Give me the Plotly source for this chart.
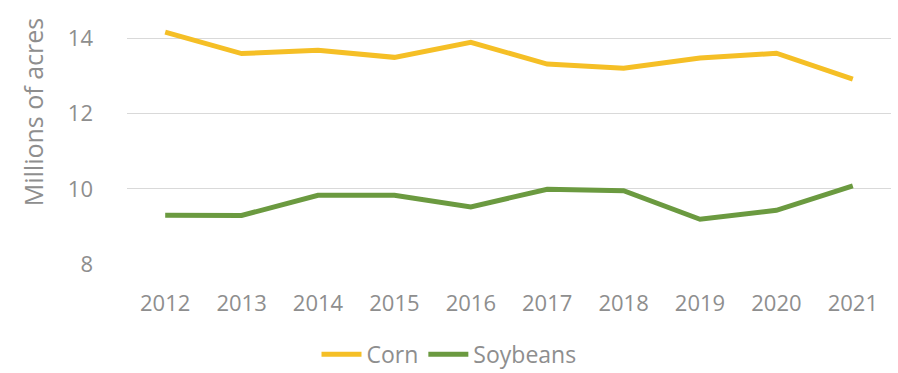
import plotly.graph_objects as go

years = ["2012", "2013", "2014", "2015", "2016", "2017", "2018", "2019", "2020", "2021"]
corn = [14.17, 13.60, 13.69, 13.50, 13.90, 13.32, 13.21, 13.48, 13.61, 12.92]
soybeans = [9.30, 9.29, 9.83, 9.83, 9.52, 9.99, 9.95, 9.19, 9.43, 10.08]
y_ticks = [8, 10, 12, 14]
y_title = "Millions of acres"

corn_color = "#F5BF26"
soy_color = "#6B9A40"
text_gray = "#8E8E8E"
font_family = "Open Sans, Noto Sans, sans-serif"

fig = go.Figure()
fig.add_trace(go.Scatter(x=years, y=corn, name="Corn", mode="lines",
                         line=dict(color=corn_color, width=5)))
fig.add_trace(go.Scatter(x=years, y=soybeans, name="Soybeans", mode="lines",
                         line=dict(color=soy_color, width=5)))

# Vertical axis title, set a little above the plot's mid-height
fig.add_annotation(text=y_title, xref="paper", yref="paper",
                   x=-0.122, y=0.58, xanchor="center", yanchor="middle",
                   textangle=-90, showarrow=False,
                   font=dict(size=25, color=text_gray, family=font_family))

fig.update_layout(
    width=898, height=373,
    margin=dict(l=127, r=7, t=1, b=109),
    paper_bgcolor="white", plot_bgcolor="white",
    font=dict(family=font_family, color=text_gray, size=22),
    showlegend=True,
    legend=dict(orientation="h", xref="container", x=0.5, xanchor="center",
                yref="container", y=0.05, yanchor="middle",
                font=dict(size=23, color=text_gray), itemwidth=40,
                tracegroupgap=0, traceorder="normal"),
    xaxis=dict(type="category", range=[-0.5, 9.5], showgrid=False,
               showline=False, zeroline=False, ticks="",
               ticklabelstandoff=24, tickfont=dict(size=22, color=text_gray)),
    yaxis=dict(range=[8, 15], tickvals=y_ticks, showgrid=True,
               gridcolor="#D9D9D9", gridwidth=1, zeroline=False, showline=False,
               ticks="", ticklabelstandoff=33,
               tickfont=dict(size=22, color=text_gray)),
)

fig.write_html("out.html")
